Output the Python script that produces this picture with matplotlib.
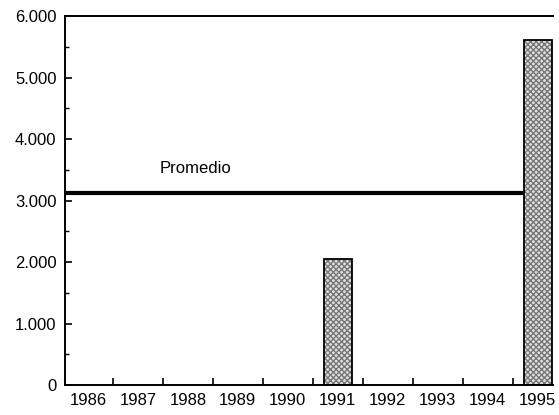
import matplotlib; matplotlib.use("Agg")
import matplotlib.pyplot as plt
from matplotlib.ticker import FuncFormatter, MultipleLocator
import numpy as np

plt.rcParams.update({"font.family": ["Liberation Sans", "DejaVu Sans"], "font.size": 12})

years = ["1986", "1987", "1988", "1989", "1990", "1991", "1992", "1993", "1994", "1995"]
values = [0, 0, 0, 0, 0, 2050, 0, 0, 0, 5620]
promedio = 3120
promedio_label = "Promedio"

fig = plt.figure(figsize=(5.59, 4.15), dpi=100)
ax = fig.add_axes([0.116, 0.072, 0.873, 0.889])
x = np.arange(len(years))
vals = np.array(values, dtype=float)
mask = vals > 0
# stipple layer + outline layer
ax.bar(x[mask], vals[mask], 0.56, color="#e2e2e2", hatch="xxxxxx", edgecolor="#777777", lw=0, zorder=2)
ax.bar(x[mask], vals[mask], 0.56, fill=False, edgecolor="black", lw=1.3, zorder=3)

ax.plot([-0.5, 8.7], [promedio, promedio], color="black", lw=3, zorder=4, solid_capstyle="butt")
ax.text(2.15, promedio + 280, promedio_label, ha="center", va="bottom", fontsize=12)

ax.set_xlim(-0.46, 9.3)
ax.set_ylim(0, 6000)
ax.set_xticks(x)
ax.set_xticklabels(years)
ax.tick_params(axis="x", length=0, pad=6)
ax.set_xticks(x[:-1] + 0.5, minor=True)
ax.tick_params(axis="x", which="minor", direction="in", length=5, width=1.2)
ax.yaxis.set_major_locator(MultipleLocator(1000))
ax.yaxis.set_minor_locator(MultipleLocator(500))
ax.yaxis.set_major_formatter(FuncFormatter(lambda v, p: f"{int(v):,}".replace(",", ".")))
ax.tick_params(axis="y", which="major", direction="in", length=5, width=1.2, pad=6)
ax.tick_params(axis="y", which="minor", direction="in", length=3, width=1.0)
ax.spines["right"].set_visible(False)
for s in ["left", "bottom", "top"]:
    ax.spines[s].set_linewidth(1.4)

fig.savefig("out.png", dpi=100)
